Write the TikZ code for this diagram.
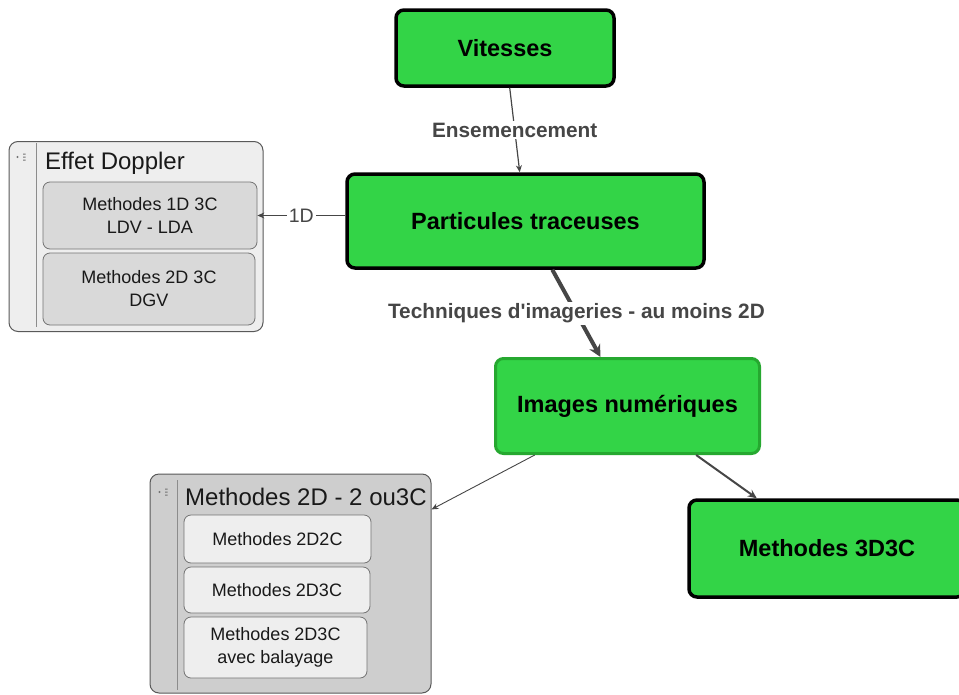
\documentclass[tikz,border=0pt]{standalone}
\usepackage{fontspec}
\setmainfont{Liberation Sans}[Ligatures=TeXOff]
\usetikzlibrary{arrows.meta,positioning}
\definecolor{nodegreen}{RGB}{51,212,71}
\definecolor{darkgreen}{RGB}{38,168,48}
\definecolor{edgegray}{RGB}{70,70,70}
\definecolor{groupgray}{RGB}{206,206,206}
\definecolor{palegray}{RGB}{238,238,238}
\definecolor{midgray}{RGB}{217,217,217}

\begin{document}
\begin{tikzpicture}
  [x=1pt,y=-1pt,
   conceptN/.style={draw=black,line width=3.5pt,fill=nodegreen,rounded corners=8pt,inner sep=0pt,
                    font=\fontsize{23.5}{28}\selectfont\bfseries},
   groupN/.style={draw=black!65,line width=1pt,rounded corners=9pt,inner sep=0pt},
   itemN/.style={draw=black!55,line width=0.8pt,rounded corners=7pt,inner sep=0pt,align=center,
                 text=black!90,font=\fontsize{18}{23}\selectfont},
   titleN/.style={anchor=west,inner sep=0pt,text=black!90,font=\fontsize{24}{28}\selectfont},
   linkL/.style={fill=white,inner sep=2pt,text=edgegray,font=\fontsize{20.8}{24}\selectfont\bfseries},
   link/.style={draw=edgegray,line width=1.2pt,-{Stealth[length=7pt,width=6pt]}},
  ]
 \useasboundingbox (0,0) rectangle (959,694);

 % main concepts
 \node[conceptN,minimum width=218pt,minimum height=76pt] (vit) at (505,48) {Vitesses};
 \node[conceptN,minimum width=357pt,minimum height=94pt] (part) at (525.5,221) {Particules traceuses};
 \node[conceptN,draw=darkgreen,line width=3pt,minimum width=264pt,minimum height=95pt] (img) at (627.5,406) {Images numériques};
 \node[conceptN,minimum width=276pt,minimum height=97pt] (m3d) at (827,548.5) {Methodes 3D3C};

 % group: effet doppler
 \node[groupN,fill=palegray,minimum width=254pt,minimum height=190pt] (dop) at (136,236.5) {};
 \draw[black!45,line width=0.8pt] (36,143) -- (36,327);
 \fill[black!55] (17.5,157) circle (1.2pt);
 \fill[black!55] (23,153.5) rectangle (25.5,154.5) (23,156.5) rectangle (25.5,157.5) (23,159.5) rectangle (25.5,160.5);
 \node[titleN] (dopT) at (45,163) {Effet Doppler};
 \node[itemN,fill=midgray,minimum width=214pt,minimum height=67pt] (dop1) at (150,215.5) {Methodes 1D 3C\\LDV - LDA};
 \node[itemN,fill=midgray,minimum width=212pt,minimum height=72pt] (dop2) at (149,289) {Methodes 2D 3C\\DGV};

 % group: methodes 2D
 \node[groupN,fill=groupgray,minimum width=281pt,minimum height=219pt] (m2d) at (290.5,583.5) {};
 \draw[black!45,line width=0.8pt] (177,480) -- (177,690);
 \fill[black!55] (159.5,492) circle (1.2pt);
 \fill[black!55] (165,488.5) rectangle (167.5,489.5) (165,491.5) rectangle (167.5,492.5) (165,494.5) rectangle (167.5,495.5);
 \node[titleN] (m2dT) at (185,497) {Methodes 2D - 2 ou3C};
 \node[itemN,fill=palegray,minimum width=187pt,minimum height=48pt] (m2d1) at (277.5,539) {Methodes 2D2C};
 \node[itemN,fill=palegray,minimum width=186pt,minimum height=46pt] (m2d2) at (277,590) {Methodes 2D3C};
 \node[itemN,fill=palegray,minimum width=183pt,minimum height=61pt] (m2d3) at (275.5,647.5) {Methodes 2D3C\\avec balayage};

 % links
 \draw[link] (vit) -- node[linkL] {Ensemencement} (part);
 \draw[link,line width=4pt,-{Stealth[length=12pt,width=12pt]}] (part) -- node[linkL] {Techniques d'imageries - au moins 2D} (img);
 \draw[link,line width=0.9pt] (part.west |- dop1) -- node[linkL,font=\fontsize{19.5}{23}\selectfont] {1D} (dop1);
 \draw[link,line width=0.9pt] (img) -- (m2d);
 \draw[link,line width=2pt,-{Stealth[length=9pt,width=8pt]}] (img) -- (m3d);

\end{tikzpicture}
\end{document}
